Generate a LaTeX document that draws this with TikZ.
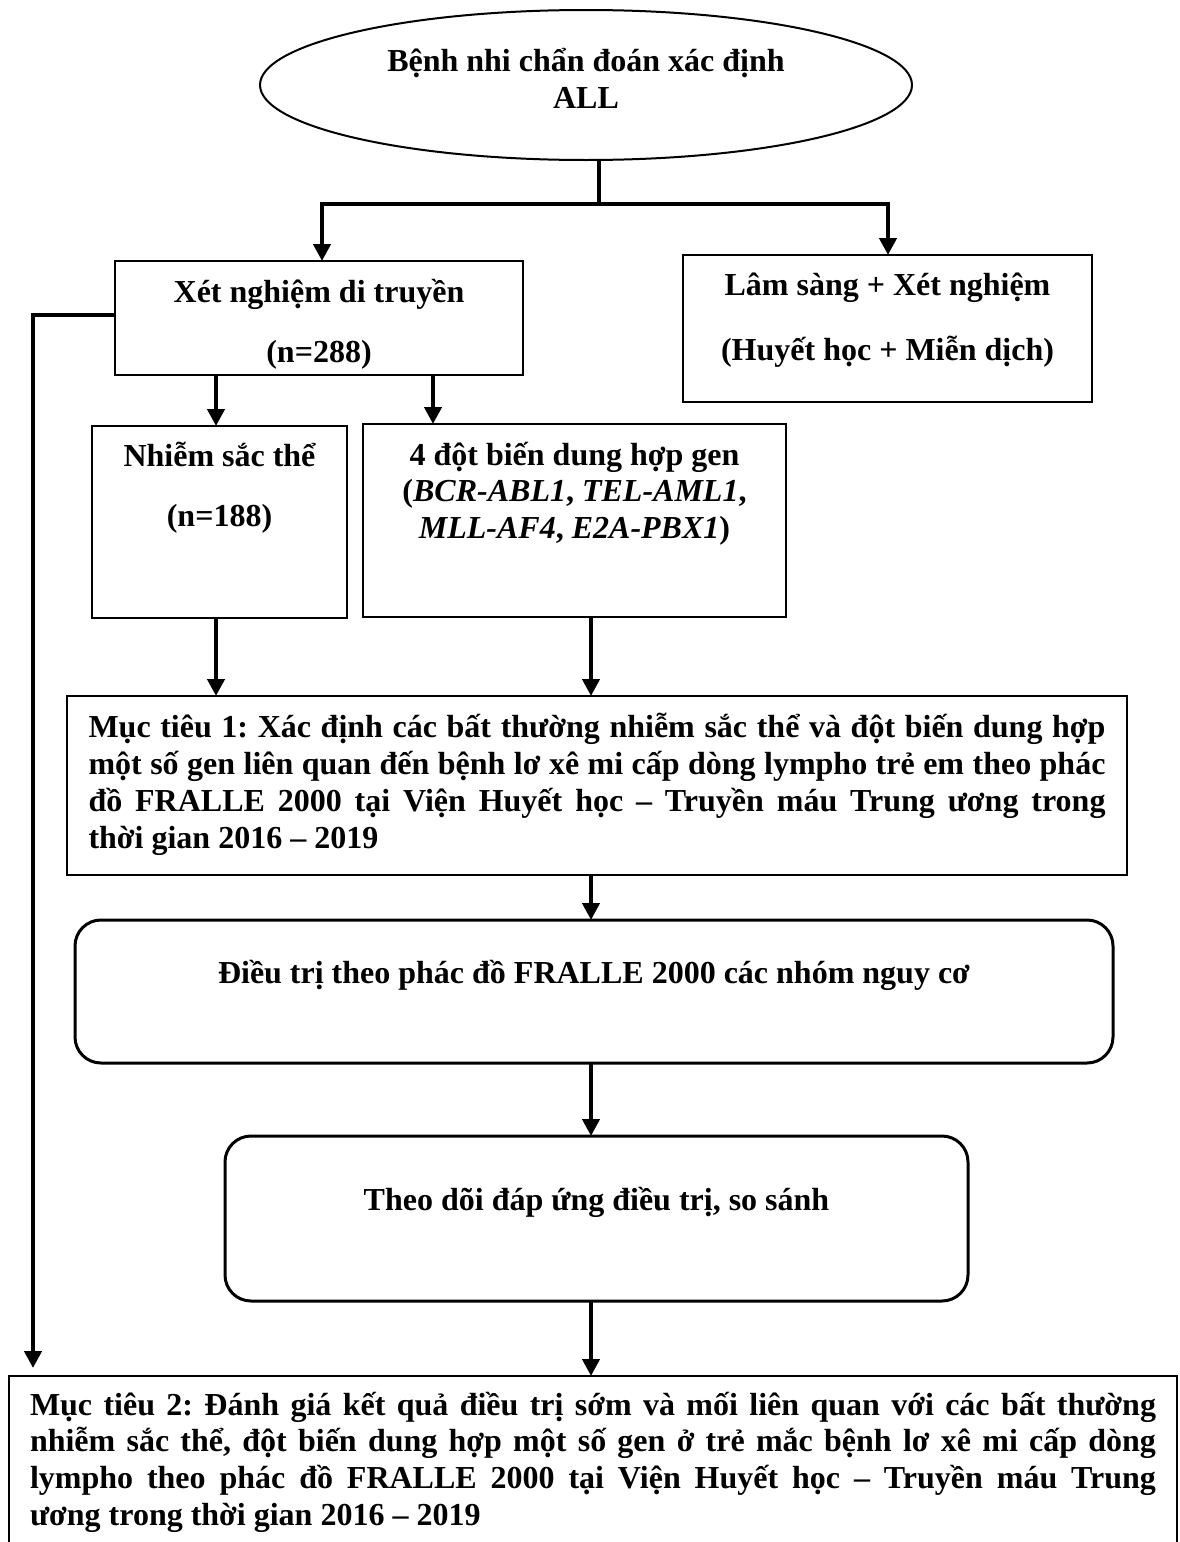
\documentclass[tikz,border=0pt]{standalone}
\usepackage{fontspec}
\setmainfont{Liberation Serif}
\usetikzlibrary{arrows.meta,shapes.geometric}
\frenchspacing
% #1 width, #2 height, #3 baselineskip, #4 first baseline offset, #5 text
\newcommand\cbox[5]{\parbox[c][#2][t]{#1}{\centering\frenchspacing\hyphenpenalty=10000 \baselineskip=#3\relax\rule{0pt}{#4}#5\par}}
\newcommand\jbox[5]{\parbox[c][#2][t]{#1}{\frenchspacing\hyphenpenalty=10000 \exhyphenpenalty=10000 \tolerance=10000 \baselineskip=#3\relax\rule{0pt}{#4}#5\par}}
\tikzset{
  txt/.style={font=\fontsize{16pt}{18.5pt}\selectfont\bfseries, inner sep=0pt, outer sep=0pt},
  sqbox/.style={txt, draw, line width=1pt, anchor=north west},
  rndbox/.style={txt, draw, line width=1.5pt, rounded corners=13pt, anchor=north west},
  oval/.style={txt, draw, ellipse, line width=1pt, minimum width=326pt, minimum height=75pt, align=center, text height=32pt, text depth=9pt},
  conn/.style={line width=2.4pt},
  arr/.style={conn, -{Triangle[width=8.5pt,length=8.5pt]}},
  biarr/.style={conn, {Triangle[width=8.5pt,length=8.5pt]}-{Triangle[width=8.5pt,length=8.5pt]}},
}
\begin{document}
\begin{tikzpicture}[x=0.5pt,y=-0.5pt]
\useasboundingbox (0,0) rectangle (1179,1542);
\fill[white] (0,0) rectangle (1179,1542);

\node[oval] (start) at (586,85) {Bệnh nhi chẩn đoán xác định\\ALL};

\node[sqbox] (xn) at (115,261) {\cbox{204pt}{57pt}{30pt}{20.5pt}{Xét nghiệm di truyền\\(n=288)}};
\node[sqbox] (ls) at (683,255) {\cbox{204.5pt}{73.5pt}{32.5pt}{20pt}{Lâm sàng + Xét nghiệm\\(Huyết học + Miễn dịch)}};
\node[sqbox] (nst) at (92,426) {\cbox{127.5pt}{96pt}{30pt}{20pt}{Nhiễm sắc thể\hspace*{10pt}\\(n=188)}};
\node[sqbox] (dbd) at (363,424) {\cbox{211.5pt}{96.5pt}{18.3pt}{20.5pt}{4 đột biến dung hợp gen\\(\textit{BCR-ABL1}, \textit{TEL-AML1},\\\textit{MLL-AF4}, \textit{E2A-PBX1})}};
\node[sqbox, inner xsep=10.75pt, line width=1.2pt] (mt1) at (67,696) {\jbox{508.5pt}{89.5pt}{18.5pt}{20.5pt}{Mục tiêu 1: Xác định các bất thường nhiễm sắc thể và đột biến dung hợp\linebreak một số gen liên quan đến bệnh lơ xê mi cấp dòng lympho trẻ em theo phác\linebreak đồ FRALLE 2000 tại Viện Huyết học – Truyền máu Trung ương trong\linebreak thời gian 2016 – 2019}};
\node[rndbox] (dt) at (75,920) {\cbox{519pt}{71.5pt}{18.5pt}{31.5pt}{Điều trị theo phác đồ FRALLE 2000 các nhóm nguy cơ}};
\node[rndbox] (td) at (225,1136) {\cbox{371.5pt}{82.5pt}{18.5pt}{37pt}{Theo dõi đáp ứng điều trị, so sánh}};
\node[sqbox, inner xsep=10.5pt] (mt2) at (9,1376) {\jbox{563pt}{92pt}{18.4pt}{19.5pt}{Mục tiêu 2: Đánh giá kết quả điều trị sớm và mối liên quan với các bất thường\linebreak nhiễm sắc thể, đột biến dung hợp một số gen ở trẻ mắc bệnh lơ xê mi cấp dòng\linebreak lympho theo phác đồ FRALLE 2000 tại Viện Huyết học – Truyền máu Trung\linebreak ương trong thời gian 2016 – 2019}};

\coordinate (j) at (599,204);
\coordinate (jl) at (322,204);
\coordinate (jr) at (888,204);
\coordinate (fb) at (33,315);
\coordinate (c0) at (216,0);
\coordinate (c1) at (433,0);
\coordinate (c2) at (591,0);

\draw[conn] (start.south -| j) -- (j);
\draw[biarr] (xn.north -| jl) -- (jl) -- (jr) -- (ls.north -| jr);
\draw[arr, shorten >=4pt] (xn.west |- fb) -- (fb) -- (fb |- mt2.north);
\draw[arr] (xn.south -| c0) -- (nst.north -| c0);
\draw[arr] (xn.south -| c1) -- (dbd.north -| c1);
\draw[arr] (nst.south -| c0) -- (mt1.north -| c0);
\draw[arr] (dbd.south -| c2) -- (mt1.north -| c2);
\draw[arr] (mt1.south -| c2) -- (dt.north -| c2);
\draw[arr] (dt.south -| c2) -- (td.north -| c2);
\draw[arr] (td.south -| c2) -- (mt2.north -| c2);
\end{tikzpicture}
\end{document}
